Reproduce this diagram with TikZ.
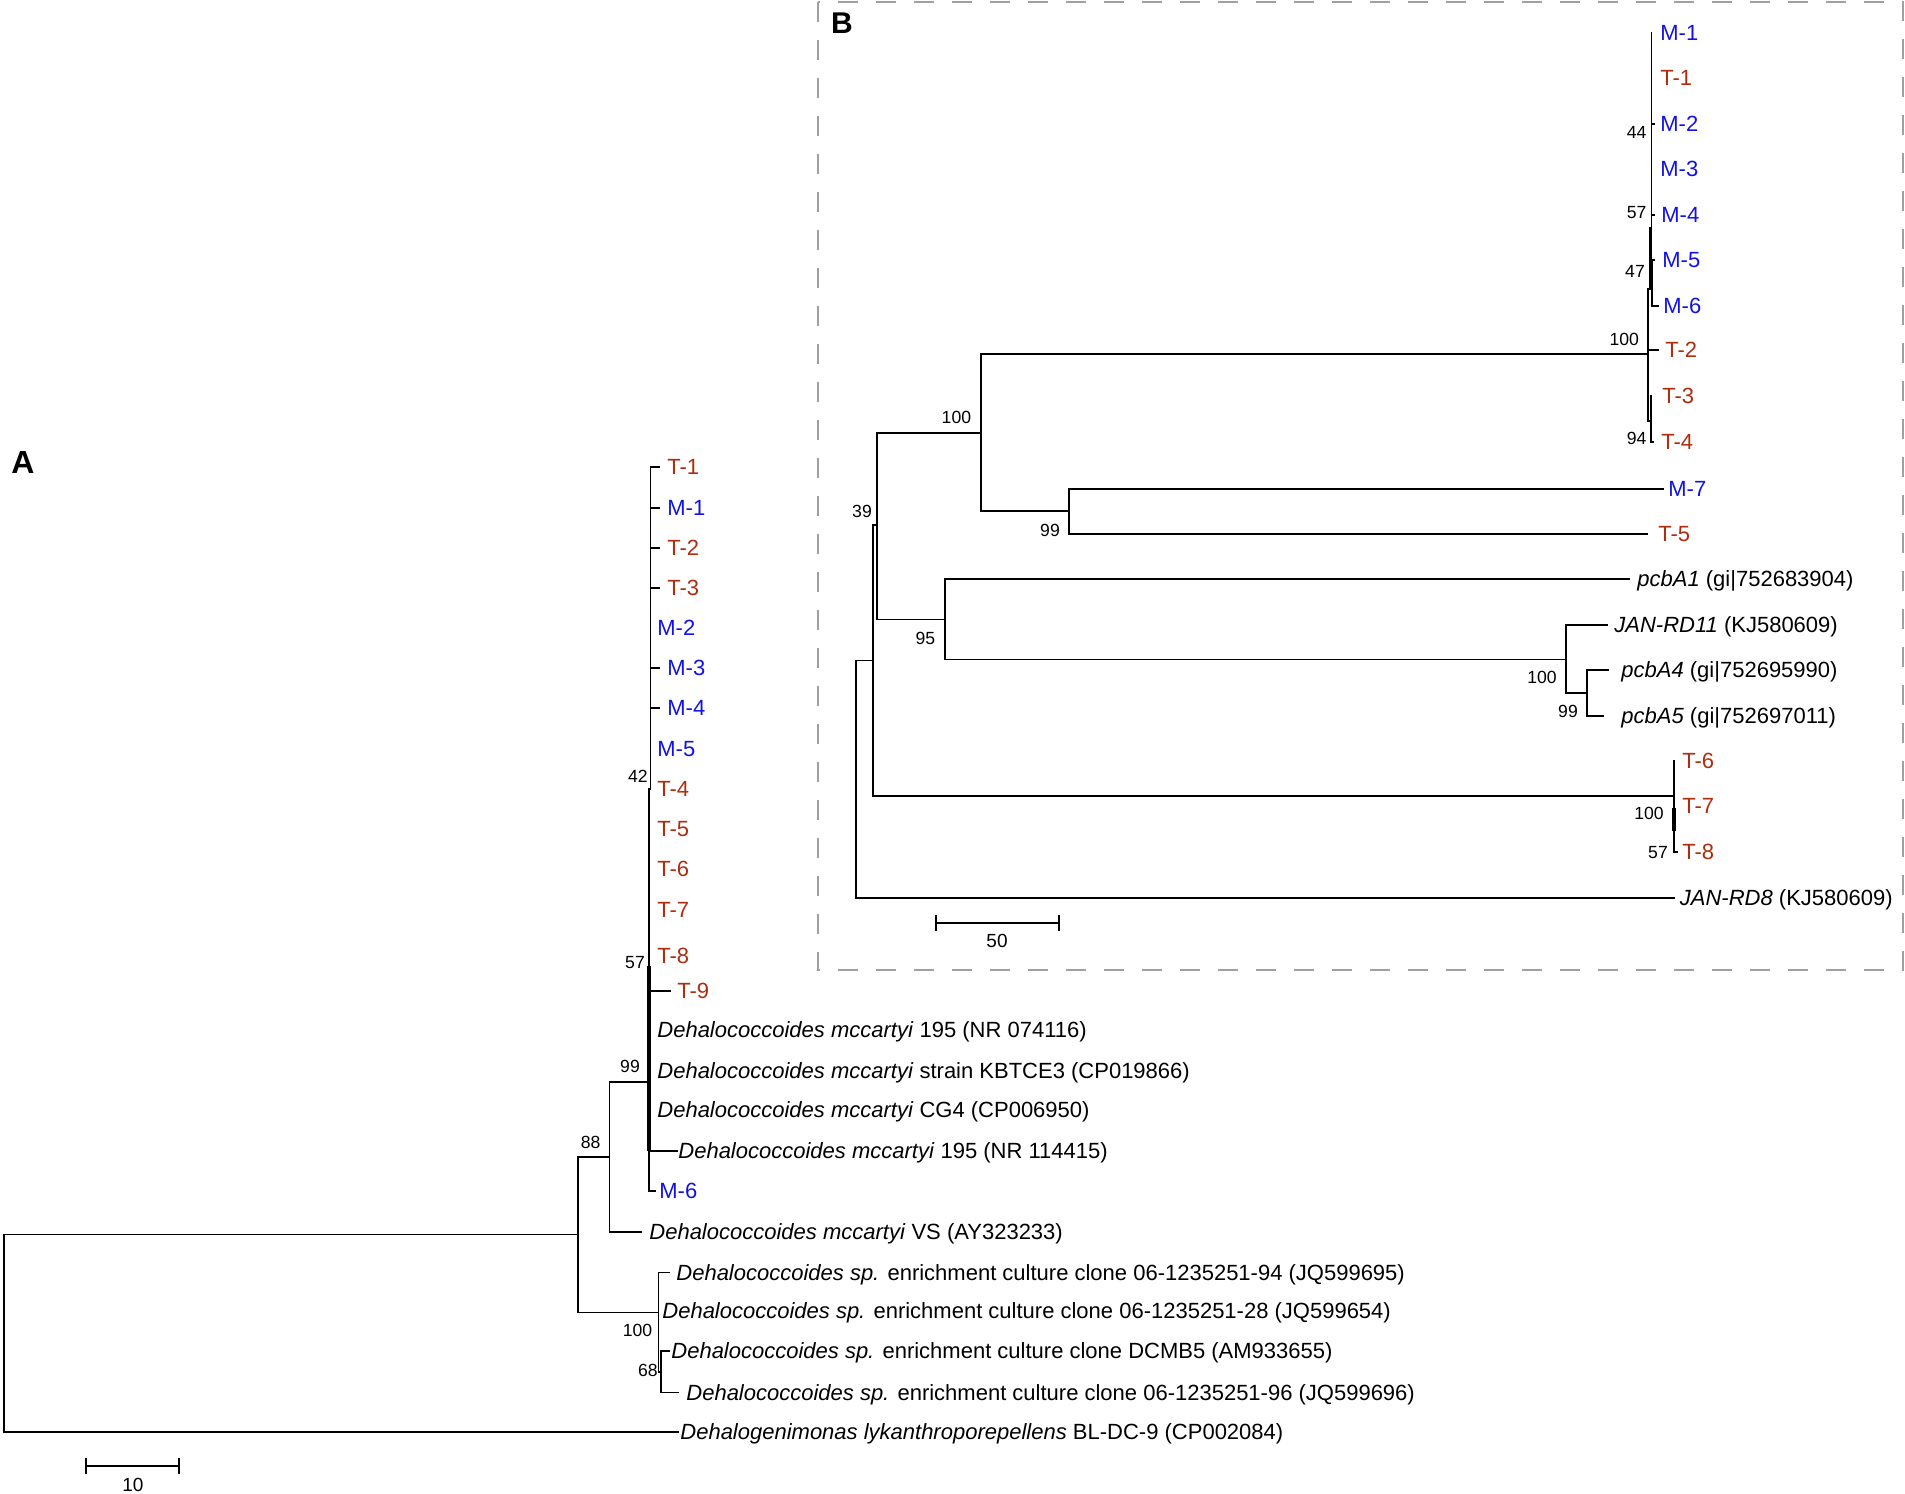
\documentclass[tikz,border=0pt]{standalone}
\usepackage{fontspec}
\setmainfont{Liberation Sans}
\definecolor{tred}{RGB}{172,46,14}
\definecolor{mblue}{RGB}{18,18,225}
\definecolor{cadregris}{RGB}{160,160,160}

\begin{document}
\begin{tikzpicture}[x=0.5pt,y=-0.5pt]
\tikzstyle{branche}=[line width=0.95pt,line cap=rect]
\tikzstyle{epais}=[line width=1.8pt]
\tikzstyle{cadre}=[line width=1pt,cadregris,dash pattern=on 10pt off 9pt]
\tikzset{feuille/.style={anchor=west,inner sep=0pt,text height=7.9pt,text depth=0pt,
  font=\fontsize{11}{13}\selectfont,text=#1},
feuille/.default={black}}
\tikzset{soutien/.style={inner sep=0pt,font=\fontsize{8.8}{10}\selectfont}}
\tikzset{panneau/.style={inner sep=0pt,font=\fontsize{#1}{18}\selectfont\bfseries},
panneau/.default={16}}
\useasboundingbox (0,0) rectangle (1905,1493);

%%%%% arbre A
\node[panneau] (lettreA) at (23,462) {A};

\node[feuille=tred] (aT1) at (667,467) {T-1};
\node[feuille=mblue] (aM1) at (667,508) {M-1};
\node[feuille=tred] (aT2) at (667,548) {T-2};
\node[feuille=tred] (aT3) at (667,588) {T-3};
\node[feuille=mblue] (aM2) at (657,628) {M-2};
\node[feuille=mblue] (aM3) at (667,668) {M-3};
\node[feuille=mblue] (aM4) at (667,708) {M-4};
\node[feuille=mblue] (aM5) at (657,749) {M-5};
\node[feuille=tred] (aT4) at (657,789) {T-4};
\node[feuille=tred] (aT5) at (657,829) {T-5};
\node[feuille=tred] (aT6) at (657,869) {T-6};
\node[feuille=tred] (aT7) at (657,910) {T-7};
\node[feuille=tred] (aT8) at (657,956) {T-8};
\node[feuille=tred] (aT9) at (677,990.6) {T-9};
\node[feuille] (aD1) at (657,1030) {\textit{Dehalococcoides mccartyi} 195 (NR 074116)};
\node[feuille] (aD2) at (657,1070.6) {\textit{Dehalococcoides mccartyi} strain KBTCE3 (CP019866)};
\node[feuille] (aD3) at (657,1110) {\textit{Dehalococcoides mccartyi} CG4 (CP006950)};
\node[feuille] (aD4) at (678,1151) {\textit{Dehalococcoides mccartyi} 195 (NR 114415)};
\node[feuille=mblue] (aM6) at (659,1190.6) {M-6};
\node[feuille] (aVS) at (649,1232) {\textit{Dehalococcoides mccartyi} VS (AY323233)};
\node[feuille] (aS1) at (676,1272.5) {\textit{Dehalococcoides sp.} enrichment culture clone 06-1235251-94 (JQ599695)};
\node[feuille] (aS2) at (662,1311) {\textit{Dehalococcoides sp.} enrichment culture clone 06-1235251-28 (JQ599654)};
\node[feuille] (aS3) at (671,1351) {\textit{Dehalococcoides sp.} enrichment culture clone DCMB5 (AM933655)};
\node[feuille] (aS4) at (686,1392.5) {\textit{Dehalococcoides sp.} enrichment culture clone 06-1235251-96 (JQ599696)};
\node[feuille] (aDL) at (680,1432) {\textit{Dehalogenimonas lykanthroporepellens} BL-DC-9 (CP002084)};

% noeuds internes
\coordinate (nAracine) at (4,1234.5);
\coordinate (nA88) at (578,1234.5);
\coordinate (nA99) at (609.5,1156.6);
\coordinate (nA57) at (649,1082);
\coordinate (nA42) at (650.5,776);
\coordinate (nA100) at (658.5,1312.5);
\coordinate (nA68) at (661,1372);

\draw[branche] (nA42 |- aT1.west) -- (nA42 |- aT4.west);
\foreach \f in {aT1,aM1,aT2,aT3,aM3,aM4}
  \draw[branche] (nA42 |- \f.west) -- ++(8.5,0);
\draw[branche] (nA57 |- aT4.west) -- (nA57 |- aM6.west);
\draw[epais] (649,966) -- (nA57 |- aD4.west);
\draw[branche] (nA57 |- aT9.west) -- ++(21,0);
\draw[branche] (nA57 |- aD4.west) -- ++(28,0);
\draw[branche] (nA57 |- aM6.west) -- ++(6,0);
\draw[branche] (nA99 |- nA57) -- (nA57);
\draw[branche] (nA99 |- nA57) -- (nA99 |- aVS.west) -- ++(32,0);
\draw[branche] (nA88 |- nA99) -- (nA99);
\draw[branche] (nA88 |- nA99) -- (nA88 |- nA100) -- (nA100);
\draw[branche] (nAracine) -- (nA88);
\draw[branche] (nAracine) -- (nAracine |- aDL.west) -- ++(674,0);
\draw[branche] (nA100 |- aS1.west) -- (nA100 |- nA68) -- (nA68);
\draw[branche] (nA100 |- aS1.west) -- ++(11,0);
\draw[branche] (nA68 |- aS3.west) -- (nA68 |- aS4.west);
\draw[branche] (nA68 |- aS3.west) -- ++(8,0);
\draw[branche] (nA68 |- aS4.west) -- ++(17,0);

\node[soutien] (sA42) at (637.8,776) {42};
\node[soutien] (sA57) at (635,963) {57};
\node[soutien] (sA99) at (630,1066) {99};
\node[soutien] (sA88) at (590.6,1142.6) {88};
\node[soutien] (sA100) at (637.5,1330) {100};
\node[soutien] (sA68) at (647.8,1370) {68};

% echelle
\coordinate (eA1) at (86,1466);
\coordinate (eA2) at (179,1466);
\draw[branche] (eA1) -- (eA2);
\draw[branche] (eA1) ++(0,-7) -- ++(0,14);
\draw[branche] (eA2) ++(0,-7) -- ++(0,14);
\node[soutien,font=\fontsize{9.5}{11}\selectfont] (eA) at (133,1485) {10};

%%%%% arbre B
\draw[cadre] (817.6,1.7) rectangle (1903,969.5);
\node[panneau=15] (lettreB) at (842,23) {B};

\node[feuille=mblue] (bM1) at (1660,33) {M-1};
\node[feuille=tred] (bT1) at (1660,78) {T-1};
\node[feuille=mblue] (bM2) at (1660,124) {M-2};
\node[feuille=mblue] (bM3) at (1660,169) {M-3};
\node[feuille=mblue] (bM4) at (1661,215) {M-4};
\node[feuille=mblue] (bM5) at (1662,260) {M-5};
\node[feuille=mblue] (bM6) at (1663,306) {M-6};
\node[feuille=tred] (bT2) at (1665,350) {T-2};
\node[feuille=tred] (bT3) at (1662,396) {T-3};
\node[feuille=tred] (bT4) at (1661,442) {T-4};
\node[feuille=mblue] (bM7) at (1668,489) {M-7};
\node[feuille=tred] (bT5) at (1658,534) {T-5};
\node[feuille] (bA1) at (1637,579) {\textit{pcbA1} (gi|752683904)};
\node[feuille] (bRD11) at (1614,625) {\textit{JAN-RD11} (KJ580609)};
\node[feuille] (bA4) at (1621,670) {\textit{pcbA4} (gi|752695990)};
\node[feuille] (bA5) at (1621,716) {\textit{pcbA5} (gi|752697011)};
\node[feuille=tred] (bT6) at (1682,761) {T-6};
\node[feuille=tred] (bT7) at (1682,806) {T-7};
\node[feuille=tred] (bT8) at (1682,852) {T-8};
\node[feuille] (bRD8) at (1679.5,898) {\textit{JAN-RD8} (KJ580609)};

% noeuds internes
\coordinate (nBracine) at (856.4,660.5);
\coordinate (nBx) at (873.3,660.5);
\coordinate (nB39) at (876.7,525.4);
\coordinate (nB100a) at (981,432.7);
\coordinate (nB99a) at (1069,511.4);
\coordinate (nB95) at (945,619.5);
\coordinate (nB100b) at (1566,659.5);
\coordinate (nB99b) at (1587,692.8);
\coordinate (nB100c) at (1674,795.6);
\coordinate (nB100d) at (1647.7,354.3);
\coordinate (nB44) at (1651.5,147);
\coordinate (nB57) at (1650.5,226.7);
\coordinate (nB47) at (1650.5,289.3);
\coordinate (nB56) at (1652,283);
\coordinate (nB94) at (1651,420.7);

\draw[branche] (nBracine) -- (nBx);
\draw[branche] (nBracine) -- (nBracine |- bRD8.west) -- ++(817.6,0);
\draw[branche] (nBx |- nB39) -- (nBx |- nB100c) -- (nB100c);
\draw[branche] (nBx |- nB39) -- (nB39);
\draw[branche] (nB39 |- nB100a) -- (nB39 |- nB95) -- (nB95);
\draw[branche] (nB39 |- nB100a) -- (nB100a);
\draw[branche] (nB100a |- nB100d) -- (nB100a |- nB99a) -- (nB99a);
\draw[branche] (nB100a |- nB100d) -- (nB100d);
\draw[branche] (nB99a |- bM7.west) -- (nB99a |- bT5.west);
\draw[branche] (nB99a |- bM7.west) -- ++(594,0);
\draw[branche] (nB99a |- bT5.west) -- ++(578,0);
\draw[branche] (nB95 |- bA1.west) -- (nB95 |- nB100b) -- (nB100b);
\draw[branche] (nB95 |- bA1.west) -- ++(684,0);
\draw[branche] (nB100b |- bRD11.west) -- (nB100b |- nB99b) -- (nB99b);
\draw[branche] (nB100b |- bRD11.west) -- ++(41,0);
\draw[branche] (nB99b |- bA4.west) -- (nB99b |- bA5.west);
\draw[branche] (nB99b |- bA4.west) -- ++(21,0);
\draw[branche] (nB99b |- bA5.west) -- ++(16,0);
\draw[branche] (nB100c |- bT6.west) -- (nB100c |- bT8.west) -- ++(3,0);
\draw[epais] (1674,808) -- (1674,831);
% groupe du haut
\draw[branche] (nB100d |- nB47) -- (nB100d |- nB94) -- (nB94);
\draw[branche] (nB100d |- nB47) -- (nB47);
\draw[branche] (nB100d |- bT2.west) -- ++(10,0);
\draw[branche] (nB44 |- bM1.west) -- (nB44 |- nB57);
\draw[epais] (nB57) -- (nB47);
\draw[branche] (nB44 |- bM2.west) -- ++(2.5,0);
\draw[branche] (nB44 |- bM4.west) -- ++(2.5,0);
\draw[branche] (nB56 |- bM5.west) -- (nB56 |- bM6.west) -- ++(6.5,0);
\draw[branche] (nB56 |- bM5.west) -- ++(2.5,0);
\draw[branche] (nB94 |- bT3.west) -- (nB94 |- bT4.west) -- ++(2.5,0);

\node[soutien] (sB44) at (1636.7,132.7) {44};
\node[soutien] (sB57a) at (1636.7,212.3) {57};
\node[soutien] (sB47) at (1635,271.7) {47};
\node[soutien] (sB100a) at (1624.3,339.3) {100};
\node[soutien] (sB94) at (1636.7,438.3) {94};
\node[soutien] (sB100b) at (956.4,417.3) {100};
\node[soutien] (sB39) at (862,511.4) {39};
\node[soutien] (sB99a) at (1050,530) {99};
\node[soutien] (sB95) at (925.4,638.4) {95};
\node[soutien] (sB100c) at (1542,677.4) {100};
\node[soutien] (sB99b) at (1568,711.4) {99};
\node[soutien] (sB100d) at (1649,813.9) {100};
\node[soutien] (sB57b) at (1658,852.5) {57};

% echelle
\coordinate (eB1) at (936,922.6);
\coordinate (eB2) at (1058.6,922.6);
\draw[branche] (eB1) -- (eB2);
\draw[branche] (eB1) ++(0,-7) -- ++(0,14);
\draw[branche] (eB2) ++(0,-7) -- ++(0,14);
\node[soutien,font=\fontsize{9.5}{11}\selectfont] (eB) at (997,941) {50};

\end{tikzpicture}
\end{document}
